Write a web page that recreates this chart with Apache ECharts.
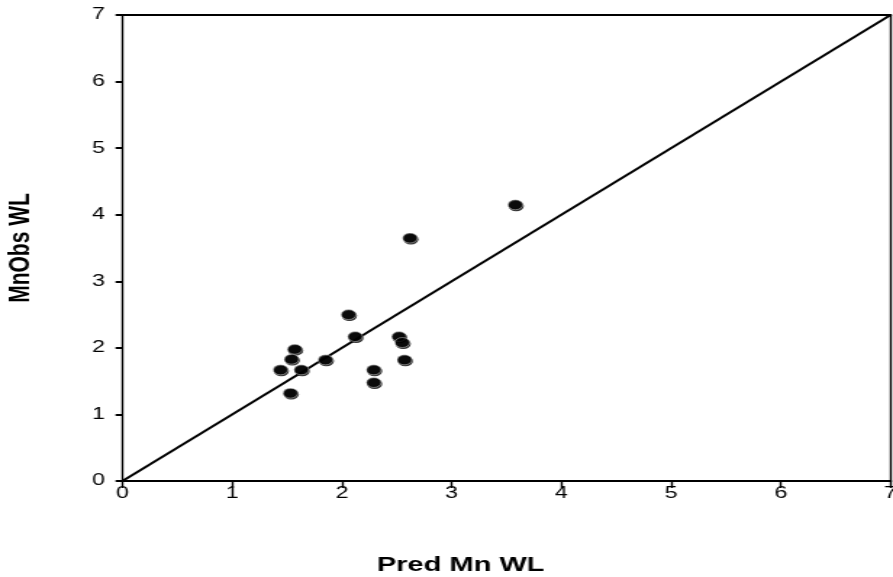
<!DOCTYPE html>
<html>
<head>
<meta charset="utf-8">
<script src="https://cdn.jsdelivr.net/npm/echarts@6/dist/echarts.min.js"></script>
<style>
html,body{margin:0;padding:0;background:#fff;overflow:hidden;}
#chart{width:616px;height:577px;transform:scaleX(1.4497);transform-origin:0 0;}
</style>
</head>
<body>
<div id="chart"></div>
<script>
// Data
const predMnWL = [2.06, 2.12, 1.57, 1.54, 1.44, 1.63, 1.85, 1.53, 2.29, 2.29, 2.52, 2.55, 2.57, 2.62, 3.58];
const mnObsWL  = [2.50, 2.17, 1.98, 1.83, 1.67, 1.67, 1.82, 1.32, 1.67, 1.48, 2.17, 2.08, 1.82, 3.65, 4.15];
const refLineX = [0, 7];
const refLineY = [0, 7];
const xTicks = [0, 1, 2, 3, 4, 5, 6, 7];
const yTicks = [0, 1, 2, 3, 4, 5, 6, 7];
const xTitle = 'Pred Mn WL';
const yTitle = 'MnObs WL';

const points = predMnWL.map((x, i) => [x, mnObsWL[i]]);
const linePts = refLineX.map((x, i) => [x, refLineY[i]]);
const font = '"Liberation Sans", Arial, Helvetica, sans-serif';

const chart = echarts.init(document.getElementById('chart'));
chart.setOption({
  animation: false,
  backgroundColor: '#fff',
  title: {
    text: xTitle,
    left: 260,
    top: 555,
    padding: 0,
    textStyle: {fontFamily: font, fontSize: 20, fontWeight: 'bold', color: '#000'}
  },
  grid: {left: 84.5, right: 1.7, top: 15, bottom: 96, containLabel: false, outerBoundsMode: 'none'},
  xAxis: [{
    type: 'value', min: xTicks[0], max: xTicks[xTicks.length - 1], interval: 1,
    position: 'bottom',
    axisLine: {show: true, onZero: false, lineStyle: {color: '#000', width: 2}},
    axisTick: {show: true, inside: false, length: 7, lineStyle: {color: '#000', width: 1.4}},
    axisLabel: {color: '#000', fontFamily: font, fontSize: 16, margin: 5},
    splitLine: {show: false}
  }, {
    type: 'value', min: 0, max: 7, position: 'top',
    axisLine: {show: true, onZero: false, lineStyle: {color: '#000', width: 2}},
    axisTick: {show: false}, axisLabel: {show: false}, splitLine: {show: false}
  }],
  yAxis: [{
    type: 'value', min: yTicks[0], max: yTicks[yTicks.length - 1], interval: 1,
    position: 'left',
    name: yTitle, nameLocation: 'middle', nameRotate: 90, nameGap: 60,
    nameTextStyle: {fontFamily: font, fontSize: 21, fontWeight: 'bold', color: '#000'},
    axisLine: {show: true, onZero: false, lineStyle: {color: '#000', width: 1.4}},
    axisTick: {show: true, inside: false, length: 4.8, lineStyle: {color: '#000', width: 2}},
    axisLabel: {color: '#000', fontFamily: font, fontSize: 16, margin: 12},
    splitLine: {show: false}
  }, {
    type: 'value', min: 0, max: 7, position: 'right',
    axisLine: {show: true, onZero: false, lineStyle: {color: '#000', width: 1.4}},
    axisTick: {show: false}, axisLabel: {show: false}, splitLine: {show: false}
  }],
  series: [{
    type: 'line',
    data: linePts,
    symbol: 'none',
    lineStyle: {color: '#000', width: 2},
    z: 2
  }, {
    type: 'scatter',
    data: points,
    symbol: 'circle',
    symbolSize: [10.5, 10.5],
    symbolOffset: [0.6, 1.2],
    itemStyle: {color: '#000'},
    z: 3
  }, {
    type: 'scatter',
    data: points,
    symbol: 'circle',
    symbolSize: [10.2, 10],
    itemStyle: {color: '#000', borderColor: '#fff', borderWidth: 0.5},
    z: 4
  }]
});
</script>
</body>
</html>
